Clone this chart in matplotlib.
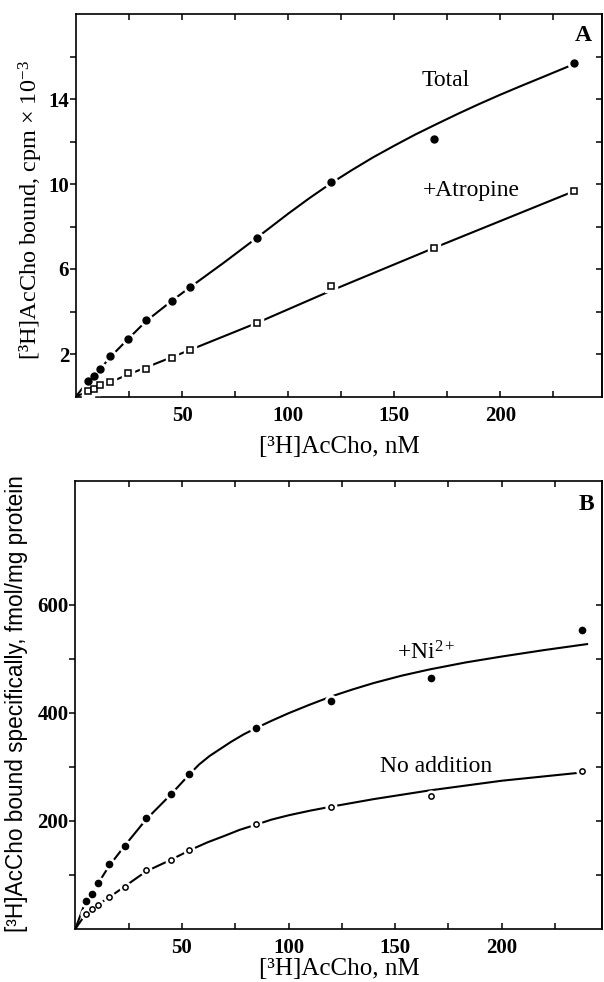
import matplotlib
matplotlib.use('Agg')
import matplotlib.pyplot as plt
from matplotlib.ticker import FixedLocator, NullFormatter

plt.rcParams['font.family'] = ['Liberation Serif', 'DejaVu Serif']
plt.rcParams['mathtext.fontset'] = 'custom'
plt.rcParams['mathtext.rm'] = 'Liberation Serif'
plt.rcParams['mathtext.it'] = 'Liberation Serif:italic'
plt.rcParams['mathtext.bf'] = 'Liberation Serif:bold'

# ---------------- Panel A data ----------------
conc_a = [5.6, 8.4, 11.3, 16.2, 24.5, 33.1, 45.4, 53.9, 85.4, 120.3, 168.6, 234.8]
total_a = [0.75, 0.98, 1.31, 1.89, 2.70, 3.62, 4.50, 5.14, 7.44, 10.08, 12.11, 15.69]
atropine_a = [0.28, 0.37, 0.52, 0.67, 1.11, 1.31, 1.80, 2.20, 3.45, 5.22, 7.00, 9.67]

total_curve_x = [0, 5.6, 11.3, 16.2, 24.5, 33.1, 45.4, 53.9, 70, 85.4, 100, 110, 120,
                 130, 140, 150, 160, 170, 180, 190, 200, 210, 220, 235]
total_curve_y = [0, 0.72, 1.28, 1.86, 2.70, 3.55, 4.52, 5.15, 6.32, 7.48, 8.60,
                 9.33, 10.02, 10.65, 11.25, 11.80, 12.33, 12.82, 13.30, 13.76,
                 14.20, 14.62, 15.03, 15.65]
atropine_curve_x = [0, 25, 54, 85, 120, 169, 235]
atropine_curve_y = [0, 1.05, 2.2, 3.45, 4.97, 7.0, 9.67]

# ---------------- Panel B data ----------------
conc_b = [4.8, 7.7, 10.5, 15.8, 23.4, 33.1, 44.9, 53.3, 84.7, 120.0, 166.6, 237.6]
nickel_b = [51.9, 63.6, 84.0, 119.8, 153.8, 204.4, 249.4, 285.9, 371.1, 422.2, 463.6, 552.5]
noadd_b = [27.2, 36.5, 43.9, 59.3, 77.8, 109.3, 127.2, 145.7, 193.3, 224.8, 246.3, 291.3]

nickel_curve_x = [0, 4.8, 10.5, 15.8, 23.4, 33.1, 44.9, 53.3, 58, 63, 68, 73, 79, 85,
                  92, 100, 110, 120, 130, 140, 153, 166, 183, 200, 220, 240]
nickel_curve_y = [0, 51, 83, 116, 155, 202, 249, 285, 304, 320, 333, 346, 360, 372,
                  385, 399, 415, 430, 443, 455, 468.5, 480, 493, 504, 516, 527]
noadd_curve_x = [0, 4.8, 10.5, 16.2, 23.4, 33.1, 45, 54, 62, 70, 77, 85, 92, 100,
                 110, 120, 140, 166, 200, 237]
noadd_curve_y = [0, 27, 44, 59, 79, 106, 128, 146, 160, 172, 183, 193, 202, 210,
                 218.5, 226, 240, 256, 274, 289]

xtick_major = [50, 100, 150, 200]
xtick_minor = [25, 75, 125, 175, 225]
ytick_major_a = [2, 6, 10, 14]
ytick_minor_a = [4, 8, 12, 16]
ytick_major_b = [200, 400, 600]
ytick_minor_b = [100, 300, 500]

W, H = 604, 982
fig = plt.figure(figsize=(W / 100, H / 100), dpi=100)


def px_axes(l, t, r, b):
    return fig.add_axes([l / W, 1 - b / H, (r - l) / W, (b - t) / H])


def fig_text(x, y, s, **kw):
    fig.text(x / W, 1 - y / H, s, ha='center', va='center', **kw)


axA = px_axes(76, 14, 602, 396.5)
axB = px_axes(75.4, 481, 602, 928.7)

LW = 1.5


def halo(ax, x, y, marker, ms, extra):
    ax.plot(x, y, linestyle='none', marker=marker, ms=ms + extra, mfc='white',
            mec='white', zorder=3, clip_on=False)


def style(ax, ymaj, ymin, xlim, ylim):
    ax.set_xlim(*xlim)
    ax.set_ylim(*ylim)
    for s in ax.spines.values():
        s.set_linewidth(1.2)
    ax.xaxis.set_major_locator(FixedLocator(xtick_major))
    ax.xaxis.set_minor_locator(FixedLocator(xtick_minor))
    ax.yaxis.set_major_locator(FixedLocator(ymaj))
    ax.yaxis.set_minor_locator(FixedLocator(ymin))
    ax.xaxis.set_minor_formatter(NullFormatter())
    ax.yaxis.set_minor_formatter(NullFormatter())
    ax.tick_params(axis='x', which='both', direction='in', top=True, bottom=True,
                   length=4, width=1.1, pad=7)
    ax.tick_params(axis='y', which='both', direction='out', left=True, right=False,
                   length=4, width=1.1, pad=1)
    for lab in ax.get_xticklabels() + ax.get_yticklabels():
        lab.set_fontweight('bold')
        lab.set_fontsize(15)
    sec = ax.secondary_yaxis('right')
    sec.yaxis.set_major_locator(FixedLocator(list(ymaj) + list(ymin)))
    sec.tick_params(direction='in', length=4, width=1.1, labelright=False)
    sec.spines['right'].set_linewidth(1.2)


# ---- Panel A ----
axA.plot(total_curve_x, total_curve_y, color='black', lw=LW, zorder=2)
axA.plot(atropine_curve_x, atropine_curve_y, color='black', lw=LW, zorder=2)
halo(axA, conc_a, total_a, 'o', 5.0, 4)
halo(axA, conc_a, atropine_a, 's', 4.0, 4)
axA.plot(conc_a, total_a, linestyle='none', marker='o', ms=5.0, mfc='black',
         mec='black', zorder=4, clip_on=False)
axA.plot(conc_a, atropine_a, linestyle='none', marker='s', ms=4.0, mfc='white',
         mec='black', mew=1.1, zorder=4, clip_on=False)
style(axA, ytick_major_a, ytick_minor_a, (0, 248), (0, 18))
fig_text(339, 447, '[³H]AcCho, nM', fontsize=18)
fig_text(31, 210, r'[³H]AcCho bound, cpm $\times$ 10$^{-3}$', fontsize=17.5,
         rotation=90)
axA.text(174.5, 14.86, 'Total', fontsize=17, ha='center', va='center')
axA.text(186.3, 9.7, '+Atropine', fontsize=17, ha='center', va='center')
axA.text(239, 16.97, 'A', fontsize=17, fontweight='bold', ha='center', va='center')

# ---- Panel B ----
axB.plot(nickel_curve_x, nickel_curve_y, color='black', lw=LW, zorder=2)
axB.plot(noadd_curve_x, noadd_curve_y, color='black', lw=LW, zorder=2)
halo(axB, conc_b, nickel_b, 'o', 4.5, 4)
halo(axB, conc_b, noadd_b, 'o', 3.8, 4)
axB.plot(conc_b, nickel_b, linestyle='none', marker='o', ms=4.5, mfc='black',
         mec='black', zorder=4, clip_on=False)
axB.plot(conc_b, noadd_b, linestyle='none', marker='o', ms=3.8, mfc='white',
         mec='black', mew=1.1, zorder=4, clip_on=False)
style(axB, ytick_major_b, ytick_minor_b, (0, 247), (0, 829))
fig_text(339, 969, '[³H]AcCho, nM', fontsize=18)
fig_text(17, 704, '[³H]AcCho bound specifically, fmol/mg protein', fontsize=16.3,
         family=['Liberation Sans', 'DejaVu Sans'], rotation=90)
axB.text(164.6, 510.6, r'+Ni$^{\mathrm{2+}}$', fontsize=17, ha='center', va='center')
axB.text(169.3, 300, 'No addition', fontsize=17, ha='center', va='center')
axB.text(239.7, 784.6, 'B', fontsize=17, fontweight='bold', ha='center', va='center')

fig.savefig('out.png', dpi=100)
